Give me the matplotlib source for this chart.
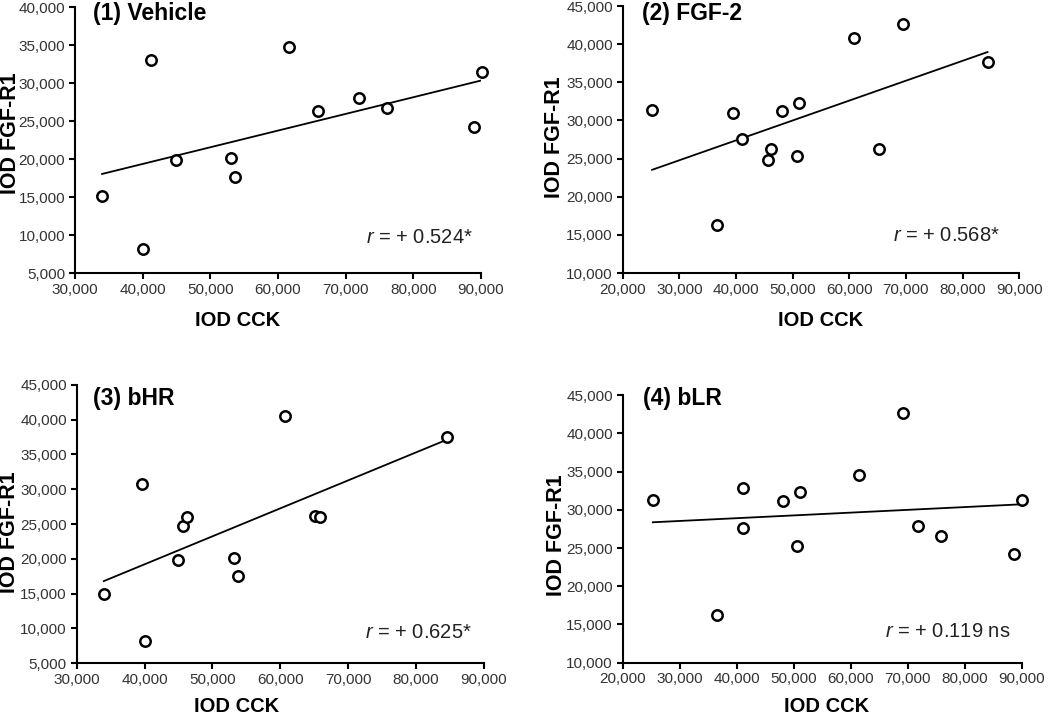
import numpy as np
import matplotlib
matplotlib.use('Agg')
import matplotlib.pyplot as plt
from matplotlib.ticker import StrMethodFormatter

plt.rcParams['font.family'] = ['Liberation Sans', 'DejaVu Sans']
plt.rcParams['mathtext.fontset'] = 'custom'
plt.rcParams['mathtext.it'] = 'Liberation Sans:italic'
plt.rcParams['mathtext.rm'] = 'Liberation Sans'

# (1) Vehicle
cck_1 = [34000, 40100, 41200, 44900, 53100, 53700, 61600, 65900, 72000, 76100, 88900, 90100]
fgf_1 = [15100, 8100, 33000, 19900, 20200, 17600, 34700, 26300, 28000, 26700, 24200, 31500]
# (2) FGF-2
cck_2 = [25200, 36600, 39500, 41100, 45700, 46200, 48200, 50700, 51100, 60800, 65300, 69400, 84400]
fgf_2 = [31400, 16300, 31000, 27600, 24800, 26200, 31300, 25300, 32300, 40800, 26300, 42700, 37700]
# (3) bHR
cck_3 = [34000, 40000, 39600, 44900, 45600, 46300, 53200, 53700, 60700, 65100, 65800, 84600]
fgf_3 = [15000, 8100, 30800, 19800, 24700, 26000, 20100, 17500, 40600, 26100, 26000, 37500]
# (4) bLR
cck_4 = [25300, 36600, 41100, 41100, 48100, 51100, 50600, 61500, 69200, 71900, 75900, 88700, 90100]
fgf_4 = [31300, 16300, 32900, 27600, 31200, 32300, 25300, 34600, 42600, 27900, 26600, 24200, 31300]

titles = ['(1) Vehicle', '(2) FGF-2', '(3) bHR', '(4) bLR']
r_texts = [r'$r$ = + 0.524*', r'$r$ = + 0.568*', r'$r$ = + 0.625*', r'$r$ = + 0.119 ns']
xlims = [(30000, 90000), (20000, 90000), (30000, 90000), (20000, 90000)]
ylims = [(5000, 40000), (10000, 45000), (5000, 45000), (10000, 45000)]

xs = [cck_1, cck_2, cck_3, cck_4]
ys = [fgf_1, fgf_2, fgf_3, fgf_4]

# axes boxes in figure fractions
boxes = [[0.0714, 0.6176, 0.3867, 0.3725],
         [0.5930, 0.6176, 0.3777, 0.3739],
         [0.0730, 0.0714, 0.3879, 0.3894],
         [0.5930, 0.0718, 0.3800, 0.3749]]
title_pos = [(0.044, 0.977), (0.049, 0.974), (0.040, 0.953), (0.051, 0.989)]
r_pos = [(0.98, 0.135), (0.951, 0.142), (0.97, 0.108), (0.971, 0.115)]
xlab_pos = [(0.40, -0.177), (0.50, -0.176), (0.393, -0.155), (0.51, -0.162)]
ylab_pos = [(-0.16, 0.526), (-0.171, 0.51), (-0.164, 0.47), (-0.165, 0.477)]

fig = plt.figure(figsize=(10.5, 7.14), dpi=100)

for i in range(4):
    ax = fig.add_axes(boxes[i])
    x = np.array(xs[i])
    y = np.array(ys[i])

    # regression line over the data range
    m, b = np.polyfit(x, y, 1)
    xl = np.array([x.min(), x.max()])
    ax.plot(xl, m * xl + b, color='black', linewidth=1.3, zorder=2)

    ax.plot(x, y, 'o', markersize=7.5, markerfacecolor='white',
            markeredgecolor='black', markeredgewidth=1.8, zorder=3, clip_on=False)

    ax.set_xlim(*xlims[i])
    ax.set_ylim(*ylims[i])
    ax.set_xticks(np.arange(xlims[i][0], xlims[i][1] + 1, 10000))
    ax.set_yticks(np.arange(ylims[i][0], ylims[i][1] + 1, 5000))
    ax.xaxis.set_major_formatter(StrMethodFormatter('{x:,.0f}'))
    ax.yaxis.set_major_formatter(StrMethodFormatter('{x:,.0f}'))

    ax.spines['top'].set_visible(False)
    ax.spines['right'].set_visible(False)
    ax.spines['left'].set_linewidth(1.5)
    ax.spines['bottom'].set_linewidth(1.5)
    ax.tick_params(direction='out', length=4, width=1.5, labelsize=11,
                   labelcolor='#333333', pad=3)

    ax.set_xlabel('IOD CCK', fontsize=14.5, fontweight='bold')
    ax.xaxis.set_label_coords(*xlab_pos[i])
    ax.xaxis.label.set_va('center')
    ax.set_ylabel('IOD FGF-R1', fontsize=15.5, fontweight='bold')
    ax.yaxis.set_label_coords(*ylab_pos[i])
    ax.yaxis.label.set_va('center')

    ax.text(title_pos[i][0], title_pos[i][1], titles[i], transform=ax.transAxes,
            fontsize=16.5, fontweight='bold', ha='left', va='center')
    ax.text(r_pos[i][0], r_pos[i][1], r_texts[i], transform=ax.transAxes,
            fontsize=14.5, ha='right', va='center', color='#222222')

fig.savefig('out.png', dpi=100)
